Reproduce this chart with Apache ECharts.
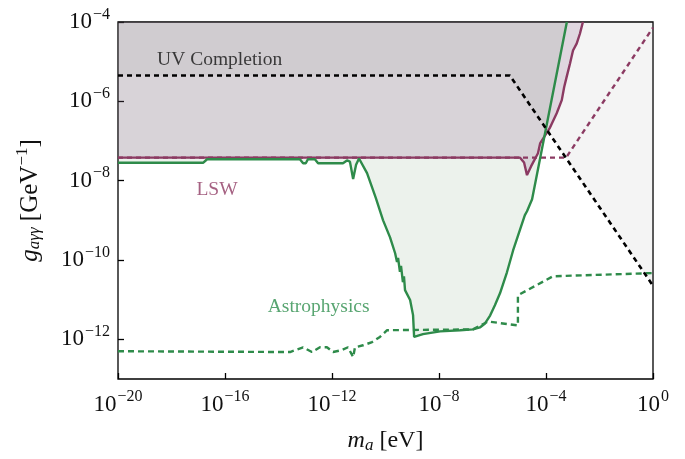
<!DOCTYPE html>
<html><head><meta charset="utf-8">
<script src="https://cdn.jsdelivr.net/npm/echarts@6/dist/echarts.min.js"></script>
<style>html,body{margin:0;padding:0;background:#fff}#c{width:685px;height:459px}</style>
</head><body><div id="c"></div>
<script>
// All values are log10 values: [log10(m_a / eV), log10(g_agg / GeV^-1)]
const xTicks = [-20, -16, -12, -8, -4, 0];
const yTicks = [-12, -10, -8, -6, -4];

const uvCompletion = [[-20, -5.35], [-5.35, -5.35], [0, -10.65]];

const lswLimit = [
  [-20, -7.42], [-4.97, -7.42], [-4.82, -7.54], [-4.71, -7.86], [-4.56, -7.64],
  [-4.30, -7.31], [-4.22, -7.06], [-3.85, -6.66], [-3.60, -6.30], [-3.41, -5.97],
  [-3.32, -5.64], [-3.23, -5.39], [-3.10, -5.04], [-2.99, -4.72], [-2.85, -4.54],
  [-2.73, -4.29], [-2.62, -4.0]
];

const lswProjection = [[-20, -7.42], [-3.25, -7.42], [0, -4.14]];

const astroLimit = [
  [-20, -7.55], [-16.82, -7.55], [-16.67, -7.46], [-13.2, -7.46], [-13.08, -7.56],
  [-12.98, -7.56], [-12.9, -7.46], [-12.64, -7.46], [-12.52, -7.56], [-11.59, -7.56],
  [-11.44, -7.49], [-11.33, -7.52], [-11.21, -7.96], [-11.10, -7.60], [-10.99, -7.44],
  [-10.69, -7.81], [-10.36, -8.44], [-10.09, -9.0], [-9.83, -9.43], [-9.64, -9.83],
  [-9.57, -10.05], [-9.53, -9.95], [-9.46, -10.3], [-9.42, -10.15], [-9.35, -10.56],
  [-9.31, -10.41], [-9.27, -10.76], [-9.08, -11.01], [-8.97, -11.39], [-8.93, -11.94],
  [-8.90, -11.94], [-8.60, -11.87], [-7.96, -11.80], [-7.21, -11.77], [-6.73, -11.75],
  [-6.47, -11.70], [-6.28, -11.60], [-6.09, -11.40], [-5.91, -11.14], [-5.72, -10.84],
  [-5.46, -10.31], [-5.23, -9.76], [-4.79, -8.87], [-4.71, -8.77], [-4.52, -8.47],
  [-3.22, -4.0]
];

const astroProjection = [
  [-20, -12.30], [-13.57, -12.32], [-13.08, -12.20], [-12.75, -12.32], [-12.45, -12.20],
  [-12.19, -12.20], [-11.96, -12.32], [-11.63, -12.27], [-11.40, -12.20], [-11.21, -12.45],
  [-11.14, -12.20], [-10.84, -12.15], [-10.50, -12.07], [-10.21, -11.94], [-9.94, -11.77],
  [-6.73, -11.75], [-6.17, -11.55], [-5.05, -11.65], [-5.05, -10.89], [-3.74, -10.41],
  [0, -10.33]
];

const annotationText = ['UV Completion', 'LSW', 'Astrophysics'];
const annotationAt = [[-16.2, -4.96], [-16.3, -8.23], [-12.5, -11.18]];

const serif = "'Liberation Serif', 'DejaVu Serif', serif";
const GREEN = '#2e8b4a';
const MAROON = '#8b3a62';
const annColor = ['#111111', '#8e3a63', '#2e8f4e'];

function pow10(v) {
  return '{b|10}{s|' + (v < 0 ? '\u2212' + (-v) : String(v)) + '}';
}
const tickRich = {
  b: { fontSize: 23, fontFamily: serif, color: '#111' },
  s: { fontSize: 16, fontFamily: serif, color: '#111', padding: [0, 0, 15, 1] }
};

const chart = echarts.init(document.getElementById('c'), null, { renderer: 'canvas' });

const lineBase = { type: 'line', showSymbol: false, symbol: 'none', silent: true, animation: false };

chart.setOption({
  backgroundColor: '#ffffff',
  animation: false,
  grid: { left: 118, top: 22, right: 32, bottom: 80, containLabel: false, outerBoundsMode: 'none',
    show: true, borderColor: '#000', borderWidth: 1.3, backgroundColor: 'transparent' },
  xAxis: {
    type: 'value', min: -20, max: 0, interval: 4,
    axisLine: { show: false, onZero: false },
    axisTick: { show: true, inside: true, length: 6, lineStyle: { color: '#000', width: 1.3 } },
    splitLine: { show: false },
    axisLabel: { margin: 10, formatter: pow10, rich: tickRich },
    name: '{i|m}{sub|a}{r| [eV]}',
    nameLocation: 'middle', nameGap: 48,
    nameTextStyle: {
      rich: {
        i: { fontSize: 24, fontFamily: serif, fontStyle: 'italic', color: '#111' },
        sub: { fontSize: 17, fontFamily: serif, fontStyle: 'italic', color: '#111', padding: [10, 0, 0, 0] },
        r: { fontSize: 24, fontFamily: serif, color: '#111' }
      }
    }
  },
  yAxis: {
    type: 'value', min: -13, max: -4, interval: 1,
    axisLine: { show: false, onZero: false },
    axisTick: { show: true, inside: true, length: 6, customValues: yTicks, lineStyle: { color: '#000', width: 1.3 } },
    splitLine: { show: false },
    axisLabel: { margin: 8, customValues: yTicks, formatter: pow10, rich: tickRich },
    name: '{i|g}{sub|a\u03b3\u03b3}{r| [GeV}{sup|\u22121}{r|]}',
    nameLocation: 'middle', nameGap: 72, nameRotate: 90,
    nameTextStyle: {
      rich: {
        i: { fontSize: 25, fontFamily: serif, fontStyle: 'italic', color: '#111' },
        sub: { fontSize: 17, fontFamily: serif, fontStyle: 'italic', color: '#111', padding: [10, 0, 0, 0] },
        r: { fontSize: 25, fontFamily: serif, color: '#111' },
        sup: { fontSize: 17, fontFamily: serif, color: '#111', padding: [0, 0, 15, 0] }
      }
    }
  },
  series: [
    Object.assign({}, lineBase, { name: 'astroFill', data: astroLimit, z: 1,
      lineStyle: { width: 0, opacity: 0 }, areaStyle: { origin: 'end', color: 'rgba(60,120,60,0.14)' } }),
    Object.assign({}, lineBase, { name: 'lswFill', data: lswLimit, z: 2,
      lineStyle: { width: 0, opacity: 0 }, areaStyle: { origin: 'end', color: 'rgba(128,70,128,0.26)' } }),
    Object.assign({}, lineBase, { name: 'uvFill', data: uvCompletion, z: 3,
      lineStyle: { width: 0, opacity: 0 }, areaStyle: { origin: 'end', color: 'rgba(128,128,128,0.13)' } }),
    Object.assign({}, lineBase, { name: 'astroProj', data: astroProjection, z: 4,
      lineStyle: { color: GREEN, width: 2.4, type: [6, 4] } }),
    Object.assign({}, lineBase, { name: 'lsw', data: lswLimit, z: 5,
      lineStyle: { color: MAROON, width: 2.4 } }),
    Object.assign({}, lineBase, { name: 'lswProj', data: lswProjection, z: 6,
      lineStyle: { color: MAROON, width: 2.4, type: [5, 4] } }),
    Object.assign({}, lineBase, { name: 'astro', data: astroLimit, z: 7,
      lineStyle: { color: GREEN, width: 2.4 } }),
    Object.assign({}, lineBase, { name: 'uv', data: uvCompletion, z: 8,
      lineStyle: { color: '#000', width: 2.6, type: [5, 4] } }),
    {
      type: 'scatter', silent: true, z: 9, symbolSize: 1,
      itemStyle: { color: 'rgba(0,0,0,0)' },
      data: annotationText.map((t, i) => ({
        value: annotationAt[i],
        label: { show: true, position: 'inside', formatter: t, fontFamily: serif, fontSize: 19.5, color: annColor[i] }
      }))
    }
  ]
});
</script>
</body></html>
